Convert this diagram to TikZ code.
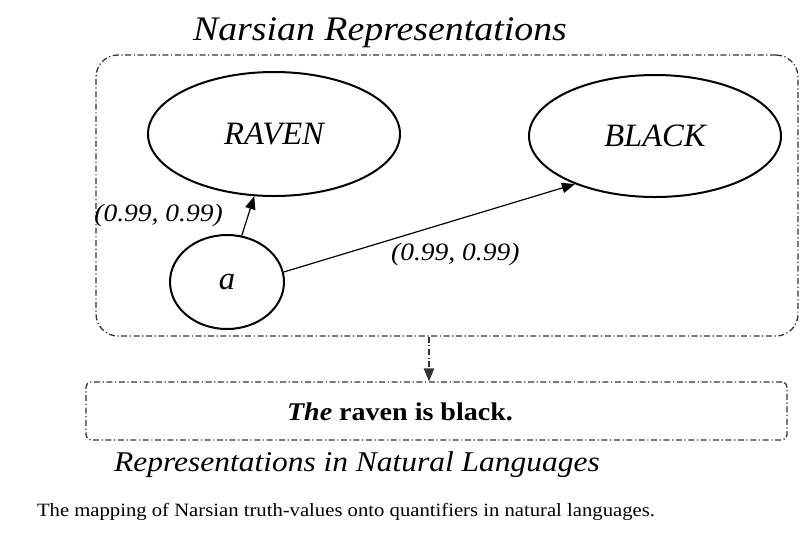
\documentclass[tikz,border=0pt]{standalone}
\usepackage{fontspec}
\setmainfont{Liberation Serif}
\newfontfamily\wideserif{Liberation Serif}[FakeStretch=1.1]
\usetikzlibrary{arrows.meta,shapes.geometric,calc}
\tikzset{
  dd/.style={draw=black!80, line width=0.65pt, dash pattern=on 3pt off 1.3pt on 0.6pt off 1.3pt},
  conc/.style={ellipse, draw, line width=1pt, inner sep=0pt, font=\itshape\fontsize{16.3}{19}\selectfont},
  tipA/.tip={Triangle[length=6.5pt,width=5.2pt]},
  link/.style={line width=0.6pt, -tipA},
  tv/.style={font=\wideserif\itshape\fontsize{12.5}{15}\selectfont},
  heading/.style={font=\wideserif\itshape\fontsize{17.2}{20}\selectfont},
  subheading/.style={font=\wideserif\itshape\fontsize{14.3}{17}\selectfont},
}
\begin{document}
\begin{tikzpicture}[x=0.5pt,y=-0.5pt]
\useasboundingbox[fill=white] (0,0) rectangle (800,532);
% group boxes
\node[dd, rounded corners=11pt, minimum width=351pt, minimum height=140.5pt, inner sep=0pt] (outer) at (447,195.5) {};
\node[dd, rounded corners=2.5pt, minimum width=350.5pt, minimum height=29pt, inner sep=0pt] (lower) at (436.5,411) {};
% headings
\node[heading] (title) at (380,33) {Narsian Representations};
\node[subheading] (title2) at (357,465) {Representations in Natural Languages};
% concepts
\node[conc, minimum width=126pt, minimum height=62pt] (raven) at (274,134) {RAVEN};
\node[conc, minimum width=126pt, minimum height=61pt] (black) at (655,136) {BLACK};
\node[conc, minimum width=57pt, minimum height=47pt] (a) at (227,282) {a};
% statements
\draw[link] (a) -- (raven) node[tv, midway, left=9pt] {(0.99, 0.99)};
\draw[link] (a.10) -- (black.211) node[tv, midway, xshift=13pt, yshift=-13pt] {(0.99, 0.99)};
% mapping
\draw[dd, -tipA] ([xshift=-9pt]outer.south) -- ([xshift=-9pt]outer.south |- lower.north);
\node[font=\wideserif\bfseries\fontsize{12.75}{15}\selectfont] (sent) at (400,412) {\textit{The} raven is black.};
% caption
\node[font=\wideserif\fontsize{9.4}{12}\selectfont] (caption) at (346,512) {The mapping of Narsian truth-values onto quantifiers in natural languages.};
\end{tikzpicture}
\end{document}
